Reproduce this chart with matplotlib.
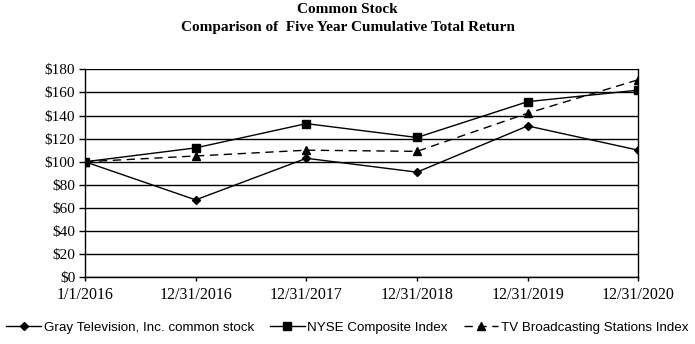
import numpy as np
import matplotlib.pyplot as plt
from matplotlib.ticker import FuncFormatter

# cumulative total return, $100 invested on 1/1/2016
dates = ['1/1/2016', '12/31/2016', '12/31/2017', '12/31/2018', '12/31/2019', '12/31/2020']
gray = [100, 67, 103, 91, 131, 110]
nyse = [100, 112, 133, 121, 152, 162]
tv = [100, 105, 110, 109, 142, 171]

serif = ['Liberation Serif', 'DejaVu Serif']
sans = ['Liberation Sans', 'DejaVu Sans']

fig = plt.figure(figsize=(6.95, 3.44), dpi=100)
ax = fig.add_axes([0.1223, 0.1939, 0.7962, 0.6046])

x = np.arange(len(dates))
ax.plot(x, gray, color='black', lw=1, marker='D', ms=4.5, label='Gray Television, Inc. common stock')
ax.plot(x, nyse, color='black', lw=1, marker='s', ms=6, label='NYSE Composite Index')
ax.plot(x, tv, color='black', lw=1, ls=(0, (6, 4)), marker='^', ms=6,
        label='TV Broadcasting Stations Index')

ax.set_xlim(0, len(dates) - 1)
ax.set_ylim(0, 180)
ax.set_yticks(np.arange(0, 181, 20))
ax.yaxis.set_major_formatter(FuncFormatter(lambda v, p: '${:.0f}'.format(v)))
ax.set_xticks(x)
ax.set_xticklabels(dates)
ax.grid(axis='y', color='black', lw=1)
ax.set_axisbelow(True)
for s in ax.spines.values():
    s.set_color('black')
    s.set_linewidth(1)
ax.spines['top'].set_visible(False)
ax.tick_params(axis='y', length=4, width=1, pad=3)
ax.tick_params(axis='x', length=3, width=1, pad=4)
for lbl in ax.get_yticklabels():
    lbl.set_family(serif)
    lbl.set_fontsize(11)
for lbl in ax.get_xticklabels():
    lbl.set_family(serif)
    lbl.set_fontsize(11.5)

fig.text(0.5, 0.971, 'Common Stock', ha='center', va='center', family=serif,
         fontweight='bold', fontsize=11)
fig.text(0.5, 0.921, 'Comparison of  Five Year Cumulative Total Return', ha='center', va='center',
         family=serif, fontweight='bold', fontsize=11)

fig.legend(loc='center', bbox_to_anchor=(0.5, 0.047), ncol=3, frameon=False,
           prop={'family': sans, 'size': 9.6}, handlelength=2.6, handletextpad=0.2,
           columnspacing=1.2, borderaxespad=0)

fig.savefig('out.png', dpi=100)
